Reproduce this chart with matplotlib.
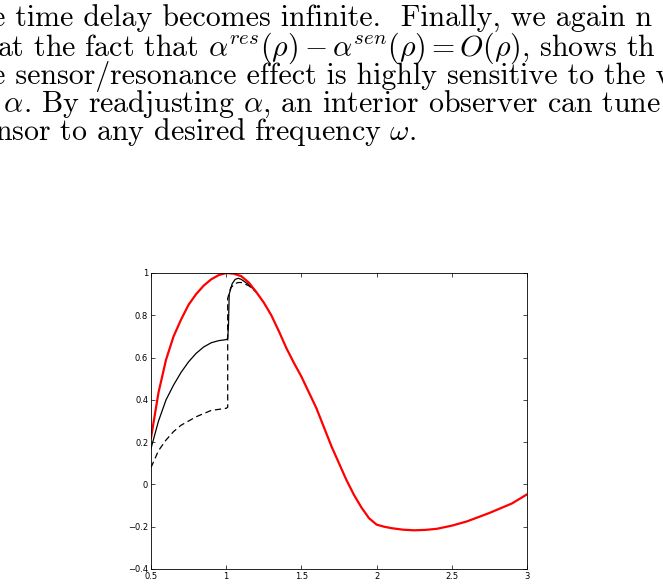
import numpy as np
import matplotlib
matplotlib.use("Agg")
import matplotlib.pyplot as plt

plt.rcParams['mathtext.fontset'] = 'cm'
plt.rcParams['axes.unicode_minus'] = True

# red curve
x_red = [0.5,0.55,0.6,0.65,0.7,0.75,0.8,0.85,0.9,0.95,1.0,1.05,1.1,1.15,1.2,1.25,1.3,1.35,1.4,1.45,1.5,1.55,1.6,1.65,1.7,1.75,1.8,1.85,1.9,1.95,2.0,2.05,2.1,2.175,2.25,2.325,2.4,2.5,2.6,2.75,2.9,3.0]
y_red = [0.22,0.435,0.59,0.70,0.78,0.85,0.90,0.94,0.97,0.99,1.0,0.997,0.985,0.955,0.91,0.86,0.80,0.725,0.645,0.575,0.51,0.435,0.36,0.27,0.18,0.10,0.02,-0.05,-0.11,-0.16,-0.19,-0.2,-0.207,-0.214,-0.217,-0.215,-0.21,-0.195,-0.175,-0.135,-0.09,-0.047]
# black solid
x_sol = [0.5,0.55,0.6,0.65,0.7,0.75,0.8,0.85,0.9,0.95,1.0,1.01,1.015,1.02,1.04,1.06,1.08,1.1,1.15,1.2]
y_sol = [0.17,0.30,0.40,0.47,0.53,0.58,0.62,0.65,0.67,0.68,0.685,0.69,0.75,0.90,0.95,0.97,0.975,0.97,0.945,0.91]
# black dashed
x_dash = [0.5,0.55,0.6,0.65,0.7,0.75,0.8,0.85,0.9,0.95,1.0,1.01,1.01,1.03,1.06,1.08,1.1,1.15,1.2]
y_dash = [0.08,0.16,0.21,0.25,0.28,0.30,0.32,0.335,0.35,0.355,0.36,0.365,0.88,0.93,0.95,0.955,0.955,0.94,0.91]

lines = [
    "e time delay becomes infinite.  Finally, we again n",
    r"at the fact that $\alpha^{res}(\rho)-\alpha^{sen}(\rho)=O(\rho)$, shows th",
    "e sensor/resonance effect is highly sensitive to the va",
    r" $\alpha$. By readjusting $\alpha$, an interior observer can tune t",
    r"nsor to any desired frequency $\omega$.",
]
x0 = [-8, -3, -8, -6, -5]

fig = plt.figure(figsize=(6.63, 5.84), dpi=100)
for i, (t, xo) in enumerate(zip(lines, x0)):
    fig.text(xo/663, 1 - (27 + 28.3*i)/584, t, family='cmr10', fontsize=21.5,
             ha='left', va='baseline')

ax = fig.add_axes([151/663, 15/584, 376/663, 296/584])
ax.plot(x_dash, y_dash, 'k--', lw=0.9, dashes=(5, 3))
ax.plot(x_sol, y_sol, 'k-', lw=0.9)
ax.plot(x_red, y_red, color='red', lw=1.6)
ax.set_xlim(0.5, 3)
ax.set_ylim(-0.4, 1)
ax.set_xticks([0.5,1,1.5,2,2.5,3])
ax.set_xticklabels(['0.5','1','1.5','2','2.5','3'])
ax.set_yticks([-0.4,-0.2,0,0.2,0.4,0.6,0.8,1])
ax.set_yticklabels(['\u22120.4','\u22120.2','0','0.2','0.4','0.6','0.8','1'])
ax.tick_params(direction='in', length=3, labelsize=6, top=True, right=True, pad=2, width=0.5)
for s in ax.spines.values():
    s.set_linewidth(0.6)
fig.savefig('out.png', dpi=100)
